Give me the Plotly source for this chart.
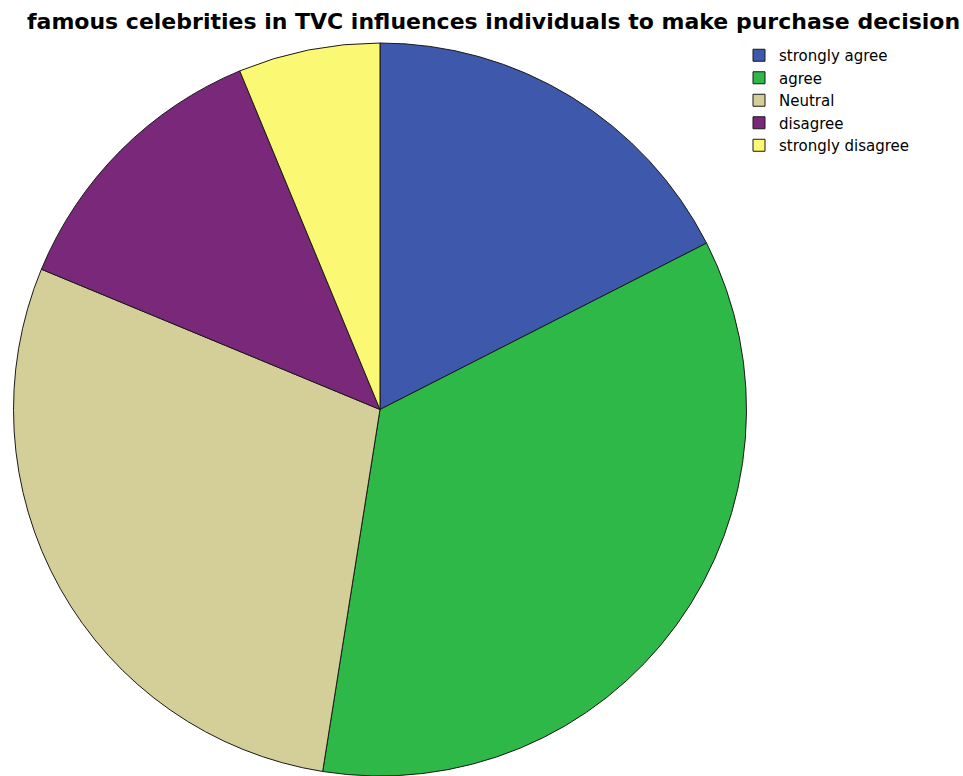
import plotly.graph_objects as go

# Response counts for each answer option (n = 80)
categories = ["strongly agree", "agree", "Neutral", "disagree", "strongly disagree"]
counts = [14, 28, 23, 10, 5]
colors = ["#3E58AC", "#2EB848", "#D4CE99", "#7A287A", "#FBF873"]

title_text = "famous celebrities in TVC influences individuals to make purchase decision"

fig = go.Figure(
    go.Pie(
        labels=categories,
        values=counts,
        sort=False,
        direction="clockwise",
        rotation=0,
        textinfo="none",
        hoverinfo="label+value+percent",
        marker=dict(colors=colors, line=dict(color="#1a1a1a", width=1)),
        domain=dict(x=[0.0135, 0.7757], y=[0, 1]),
    )
)

fig.add_annotation(
    text="<b>" + title_text + "</b>",
    xref="paper", yref="paper",
    x=493 / 963, y=1 + (43 - 22) / 733,
    xanchor="center", yanchor="middle",
    showarrow=False,
    font=dict(family="DejaVu Sans, sans-serif", size=22, color="#000000"),
)

fig.update_layout(
    width=963,
    height=776,
    margin=dict(l=0, r=0, t=43, b=0),
    paper_bgcolor="white",
    plot_bgcolor="white",
    font=dict(family="DejaVu Sans, sans-serif", size=15, color="#000000"),
    legend=dict(
        x=739 / 963, y=1 + 4 / 733, xanchor="left", yanchor="top",
        font=dict(size=15),
        tracegroupgap=0,
        itemwidth=30,
    ),
)

fig.write_html("out.html")
